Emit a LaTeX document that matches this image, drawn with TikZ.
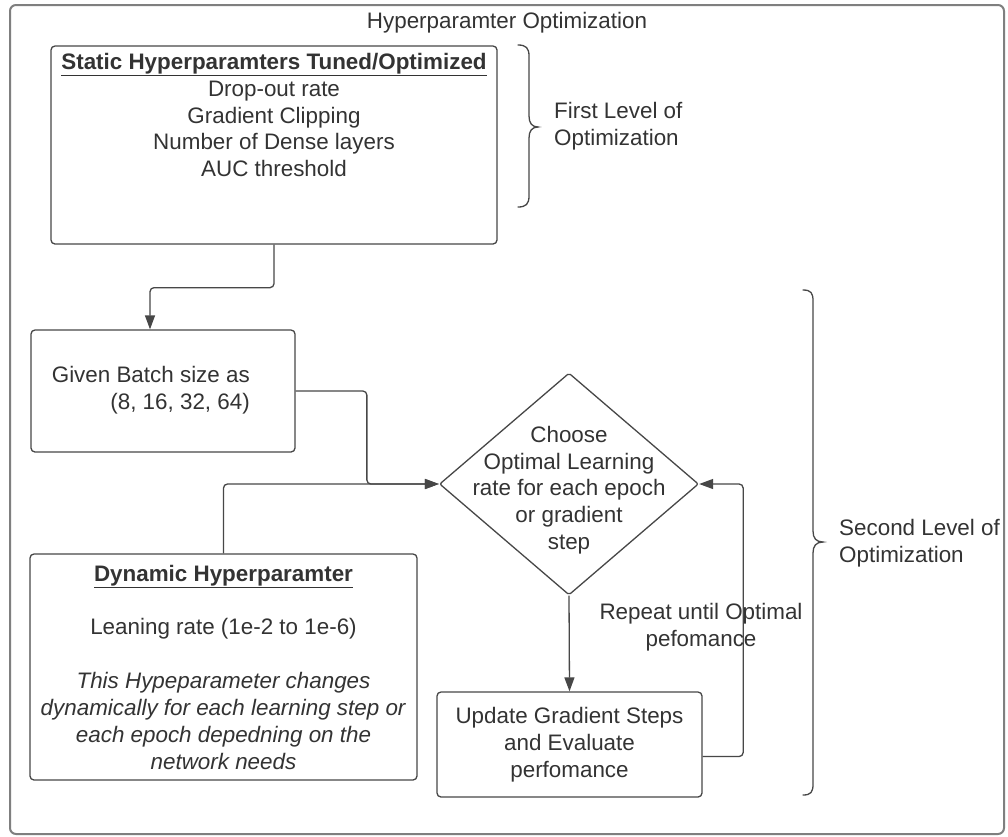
\documentclass[tikz,border=0pt]{standalone}
\usepackage{fontspec}
\setmainfont{Liberation Sans}
\usetikzlibrary{arrows.meta,calc,shapes.geometric}
\definecolor{ink}{HTML}{333333}
\definecolor{edge}{HTML}{474747}
\definecolor{framegray}{HTML}{7F7F7F}

\begin{document}
\begin{tikzpicture}[x=1pt,y=-1pt,
  every node/.style={font=\fontsize{22.4}{26.8}\selectfont, text=ink, inner sep=0pt},
  box/.style={draw=edge, line width=1.3pt, rounded corners=4pt},
  decision/.style={draw=edge, line width=1.3pt, shape=diamond, rounded corners=2pt},
  conn/.style={draw=edge, line width=1.3pt, rounded corners=4pt,
               -{Triangle[length=14pt,width=10pt]}},
  brace/.style={draw=edge, line width=1.3pt, line cap=round}]

% page and outer frame
\useasboundingbox (0,0) rectangle (1008,836);
\fill[white] (0,0) rectangle (1008,836);
\draw[draw=framegray, line width=2pt, rounded corners=6pt] (10,5) rectangle (1004,834);
\node (title) at (507,23) {Hyperparamter Optimization};

% first level: static hyperparameters
\node[box, minimum width=446pt, minimum height=198pt] (static) at (274,145) {};
\node[align=center] (statictext) at (274,115)
  {\underline{\textbf{Static Hyperparamters Tuned/Optimized}}\\
   Drop-out rate\\Gradient Clipping\\Number of Dense layers\\AUC threshold};

% second level
\node[box, minimum width=264pt, minimum height=122pt] (batch) at (163,391) {};
\node[align=right, anchor=east] (batchtext) at (250,390)
  {Given Batch size as\\(8, 16, 32, 64)};

\node[decision, minimum width=259pt, minimum height=222pt] (choose) at (569,484) {};
\node[align=center] (choosetext) at (569,490)
  {Choose\\Optimal Learning\\rate for each epoch\\or gradient\\step};

\node[box, align=center, minimum width=387pt, minimum height=226pt] (dyn) at (223.5,667)
  {\underline{\textbf{Dynamic Hyperparamter}}\\[27pt]
   Leaning rate (1e-2 to 1e-6)\\[27pt]
   \textit{This Hypeparameter changes}\\
   \textit{dynamically for each learning step or}\\
   \textit{each epoch depedning on the}\\
   \textit{network needs}};

\node[box, align=center, minimum width=265pt, minimum height=105pt] (update) at (569.5,744.5)
  {Update Gradient Steps\\and Evaluate\\perfomance};

% connectors
\draw[conn] (static.south) -- ++(0,43) -| ([xshift=-13pt]batch.north);
\draw[conn] (batch.east) -| ($(choose.west)+(-72,0)$) -- (choose.west);
\draw[conn] (dyn.north) |- (choose.west);
\draw[conn] (choose.south) -- (update.north);
\draw[conn] ([yshift=-12pt]update.east) -| ($(choose.east)+(44,0)$) -- (choose.east);

\node[align=center] (repeat) at (701,627) {Repeat until Optimal\\pefomance};

% braces and level labels
\draw[brace] (518,45) .. controls (526,45) and (529,48) .. (529,56) -- (529,116)
  .. controls (529,123) and (532,127) .. (538,127)
  .. controls (532,127) and (529,131) .. (529,138) -- (529,196)
  .. controls (529,204) and (526,207) .. (518,207);
\node[align=left, anchor=west] (firstlevel) at (554,126) {First Level of\\Optimization};

\draw[brace] (803,290) .. controls (811,290) and (813,293) .. (813,301) -- (813,531)
  .. controls (813,538) and (816,542) .. (823,542)
  .. controls (816,542) and (813,546) .. (813,553) -- (813,784)
  .. controls (813,792) and (811,795) .. (803,795);
\node[align=left, anchor=west] (secondlevel) at (839,543) {Second Level of\\Optimization};
\end{tikzpicture}
\end{document}
